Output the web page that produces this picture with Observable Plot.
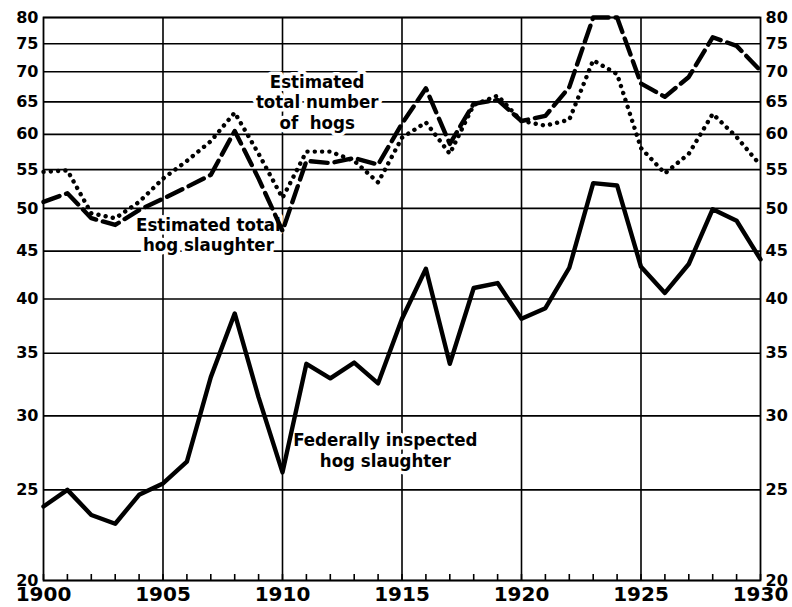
<!DOCTYPE html>
<html>
<head>
<meta charset="utf-8">
<script src="https://cdn.jsdelivr.net/npm/d3@7"></script>
<script src="https://cdn.jsdelivr.net/npm/@observablehq/plot@0.6"></script>
<style>
  html, body { margin: 0; padding: 0; background: #fff; }
  #chart svg { display: block; }
</style>
</head>
<body>
<div id="chart"></div>
<script>
// Years
const years = [1900,1901,1902,1903,1904,1905,1906,1907,1908,1909,1910,1911,1912,1913,1914,1915,1916,1917,1918,1919,1920,1921,1922,1923,1924,1925,1926,1927,1928,1929,1930];

// Federally inspected hog slaughter (millions)
const federal = [24.0,25.0,23.5,23.0,24.7,25.4,26.8,33.0,38.6,31.4,26.1,34.1,32.9,34.2,32.5,38.1,43.1,34.1,41.1,41.6,38.1,39.1,43.2,53.2,52.9,43.3,40.6,43.6,49.9,48.5,44.1];

// Estimated total hog slaughter
const totalSlaughter = [50.8,51.9,48.8,48.0,49.8,51.2,52.7,54.3,60.5,53.8,47.3,56.2,55.9,56.6,55.7,61.6,67.2,58.6,64.7,65.3,62.0,62.8,67.4,80.0,80.0,68.0,65.8,69.1,76.2,74.6,70.2];

// Estimated total number of hogs
const totalHogs = [54.7,54.9,49.4,48.8,50.8,53.8,56.2,59.0,63.3,57.2,51.3,57.5,57.5,56.2,53.3,59.5,61.8,57.2,64.5,66.0,62.0,61.3,62.2,72.0,69.6,58.0,54.5,57.2,63.1,59.6,55.6];

// Axis ticks
const yTicks = [20,25,30,35,40,45,50,55,60,65,70,75,80];
const xLabelTicks = [1900,1905,1910,1915,1920,1925,1930];
const xGridTicks = [1905,1910,1915,1920,1925];

// Annotations (anchored in data space)
const labelText = ["Estimated\ntotal number\nof  hogs", "Estimated total\nhog slaughter", "Federally inspected\nhog slaughter"];
const labelX = [1911.45, 1906.9, 1914.3];
const labelY = [65.0, 46.9, 27.6];

const fed = years.map((x, i) => ({x, y: federal[i]}));
const tsl = years.map((x, i) => ({x, y: totalSlaughter[i]}));
const thg = years.map((x, i) => ({x, y: totalHogs[i]}));
const labels = labelText.map((t, i) => ({t, x: labelX[i], y: labelY[i]}));

const tickFont = "'DejaVu Sans', sans-serif";
const labelFont = "'DejaVu Sans Condensed', 'DejaVu Sans', sans-serif";

const chart = Plot.plot({
  width: 792,
  height: 607,
  marginLeft: 43,
  marginRight: 32,
  marginTop: 17,
  marginBottom: 27,
  style: {background: "#fff", color: "#000"},
  x: {domain: [1900, 1930], label: null},
  y: {type: "log", domain: [20, 80], label: null},
  marks: [
    // gridlines
    Plot.ruleY(yTicks, {stroke: "#000", strokeWidth: 1.6}),
    Plot.ruleX(xGridTicks, {stroke: "#000", strokeWidth: 1.6}),
    Plot.frame({stroke: "#000", strokeWidth: 1.8}),
    // inward year tick marks on the bottom
    Plot.axisX({ticks: years, tickSize: -6, tickFormat: () => "", stroke: "#000", strokeWidth: 1.6, label: null}),
    Plot.axisX({ticks: xLabelTicks, tickSize: 0, tickPadding: 6, tickFormat: d => String(d),
      fontSize: 20, fontWeight: "bold", fontFamily: tickFont, label: null}),
    Plot.axisY({ticks: yTicks, anchor: "left", tickSize: 0, tickPadding: 5, tickFormat: d => String(d),
      fontSize: 16, fontWeight: "bold", fontFamily: tickFont, label: null}),
    Plot.axisY({ticks: yTicks, anchor: "right", tickSize: 0, tickPadding: 5, tickFormat: d => String(d),
      fontSize: 16, fontWeight: "bold", fontFamily: tickFont, label: null}),
    // annotations with white halo
    Plot.text(labels, {x: "x", y: "y", text: "t", fontSize: 18.5, lineHeight: 1.12, fontWeight: "bold",
      fontFamily: labelFont, fill: "#000", stroke: "#fff", strokeWidth: 7, textAnchor: "middle"}),
    // series
    Plot.line(thg, {x: "x", y: "y", stroke: "#000", strokeWidth: 4.4, strokeDasharray: "0.1,7.2", strokeLinecap: "round", strokeLinejoin: "round"}),
    Plot.line(tsl, {x: "x", y: "y", stroke: "#000", strokeWidth: 4.4, strokeDasharray: "17,7", strokeLinejoin: "round"}),
    Plot.line(fed, {x: "x", y: "y", stroke: "#000", strokeWidth: 4.4, strokeLinejoin: "round"})
  ]
});
document.getElementById("chart").appendChild(chart);
</script>
</body>
</html>
